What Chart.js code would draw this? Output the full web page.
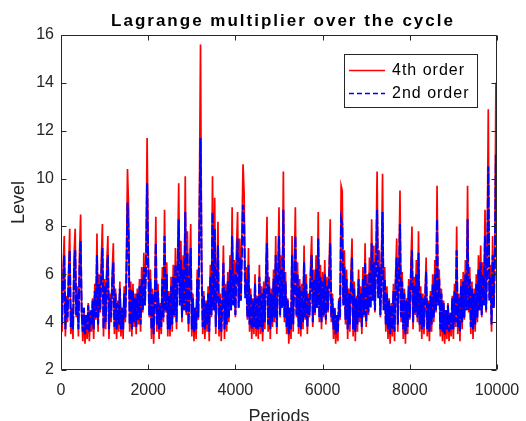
<!DOCTYPE html>
<html><head><meta charset="utf-8">
<script src="https://cdn.jsdelivr.net/npm/chart.js@4.4.0/dist/chart.umd.min.js"></script>
<style>html,body{margin:0;padding:0;background:#fff;}#wrap{width:526px;height:421px;position:relative;}</style>
</head><body><div id="wrap"><canvas id="c" width="526" height="421"></canvas></div>
<script>
const TITLE = 'Lagrange multiplier over the cycle';
const X_LABEL = 'Periods';
const Y_LABEL = 'Level';
const SERIES_NAMES = ['4th order', '2nd order'];
const PERIOD_STEP = 25; // one sample every 25 periods, 0..10000
const xTicks = [0, 2000, 4000, 6000, 8000, 10000];
const yTicks = [2, 4, 6, 8, 10, 12, 14, 16];

// 4th order (red)
const order4 = [
5.2,3.6,6.3,7.6,3.4,5.1,4.0,6.2,7.9,3.5,4.6,3.3,6.8,7.9,4.2,5.5,3.4,6.9,8.5,4.3,
3.2,4.6,3.1,4.2,3.3,4.8,3.2,4.4,3.6,5.0,3.3,5.6,4.1,7.7,3.6,6.0,4.4,6.6,8.1,3.4,
5.8,3.7,6.4,7.6,3.3,5.2,4.0,6.1,7.3,3.5,5.4,3.3,4.9,3.6,5.7,3.4,4.6,3.3,5.5,4.0,
6.4,10.4,8.8,3.6,5.7,3.4,5.6,3.8,5.2,3.5,5.4,3.9,5.8,3.6,6.3,4.4,6.9,4.8,6.8,11.7,
7.0,4.2,6.2,3.3,5.4,3.1,5.0,8.4,3.6,5.6,3.3,4.8,3.5,6.3,4.0,8.7,4.4,6.5,3.4,5.3,
3.4,5.9,3.6,6.4,4.2,7.1,3.7,6.6,9.8,4.8,7.4,4.0,6.8,4.5,10.1,4.3,7.8,3.6,6.0,8.1,
3.4,5.2,3.2,4.6,3.3,6.2,4.1,9.5,15.6,6.8,3.5,5.3,3.3,4.9,3.6,5.5,3.2,6.4,4.2,10.1,
4.5,9.2,3.5,5.8,8.2,3.4,5.2,3.2,4.8,7.2,3.3,5.6,3.6,6.1,4.0,6.8,4.5,8.8,4.8,6.6,
4.2,7.0,8.6,4.6,7.5,5.0,7.8,10.6,9.4,5.2,6.3,4.1,7.1,3.6,5.4,3.3,5.0,3.5,6.0,3.4,
5.1,3.3,6.4,3.5,5.5,3.2,5.7,3.7,6.3,8.4,3.6,5.9,3.3,5.4,3.8,6.2,4.0,7.6,3.5,6.0,
8.8,4.2,6.8,4.6,10.3,4.0,6.1,3.5,5.0,3.1,4.6,3.3,7.6,3.6,6.0,8.8,4.2,6.5,3.5,5.8,
3.4,5.6,3.7,7.2,4.1,6.0,3.5,5.2,4.2,6.4,7.6,3.8,6.2,4.3,6.8,4.6,8.6,4.0,6.4,3.7,
6.1,4.2,6.6,3.9,5.9,4.4,6.3,8.3,4.0,5.2,3.3,4.6,3.1,4.2,3.2,5.0,4.1,9.7,9.5,4.8,
7.0,3.9,6.2,3.3,5.4,3.6,6.0,7.5,3.4,5.7,3.2,5.1,3.6,6.2,4.0,5.5,3.5,6.3,4.2,7.3,
3.8,6.0,4.3,6.7,4.6,8.3,5.0,7.2,4.4,6.9,10.3,5.2,7.0,4.2,6.6,10.2,4.5,6.3,3.6,5.5,
3.3,5.0,3.1,4.8,3.4,5.6,3.2,6.0,7.5,3.6,6.3,9.5,4.0,6.1,3.3,5.4,3.1,5.0,3.5,5.8,
4.1,6.4,8.0,3.7,5.9,4.3,6.6,4.0,7.8,3.6,5.5,3.3,5.2,3.5,5.0,6.7,3.4,4.9,3.2,5.3,
3.6,6.0,4.0,6.6,4.4,9.7,4.8,6.2,3.4,5.4,3.2,4.9,3.1,4.5,3.3,4.8,3.2,4.3,3.4,5.1,
3.3,5.6,3.8,8.0,3.5,5.2,3.2,5.8,3.7,6.1,4.1,6.6,4.5,9.7,4.4,6.3,3.5,5.7,3.3,5.4,
3.6,6.0,4.0,6.8,4.5,7.2,4.2,6.5,4.8,8.7,4.4,7.1,12.9,5.0,6.4,3.6,7.6,4.6,7.0,14.0,8.2
];

// 2nd order (blue dashed)
const order2 = [
5.0,3.9,5.8,6.8,3.7,5.0,4.2,5.8,7.0,3.8,4.6,3.7,6.2,7.0,4.3,5.2,3.7,6.3,7.4,4.4,
3.6,4.6,3.5,4.3,3.7,4.7,3.6,4.5,3.9,4.9,3.7,5.3,4.2,6.8,3.9,5.6,4.5,6.0,7.1,3.7,
5.5,4.0,5.9,6.8,3.7,5.0,4.2,5.7,6.5,3.8,5.2,3.7,4.8,3.9,5.4,3.7,4.6,3.7,5.2,4.2,
5.9,9.0,7.6,3.9,5.4,3.7,5.3,4.0,5.0,3.8,5.2,4.1,5.5,3.9,5.8,4.5,6.3,4.7,6.2,9.8,
6.3,4.3,5.8,3.7,5.2,3.5,4.9,7.3,3.9,5.3,3.7,4.7,3.8,5.8,4.2,7.6,4.5,6.0,3.7,5.1,
3.7,5.5,3.9,5.9,4.3,6.4,4.0,6.0,8.3,4.7,6.6,4.2,6.2,4.5,8.6,4.4,6.9,3.9,5.6,7.1,
3.7,5.0,3.6,4.6,3.7,5.8,4.2,8.1,11.7,6.2,3.8,5.1,3.7,4.8,3.9,5.2,3.6,5.9,4.3,8.6,
4.5,7.9,3.8,5.5,7.2,3.7,5.0,3.6,4.7,6.5,3.7,5.3,3.9,5.7,4.2,6.2,4.5,7.6,4.7,6.0,
4.3,6.3,7.5,4.6,6.7,4.9,6.9,8.9,8.1,5.0,5.8,4.2,6.4,3.9,5.2,3.7,4.9,3.8,5.6,3.7,
5.0,3.7,5.9,3.8,5.2,3.6,5.4,4.0,5.8,7.3,3.9,5.5,3.7,5.2,4.0,5.8,4.2,6.8,3.8,5.6,
7.6,4.3,6.2,4.6,8.7,4.2,5.7,3.8,4.9,3.5,4.6,3.7,6.8,3.9,5.6,7.6,4.3,6.0,3.8,5.5,
3.7,5.3,4.0,6.5,4.2,5.6,3.8,5.0,4.3,5.9,6.8,4.0,5.8,4.4,6.2,4.6,7.5,4.2,5.9,4.0,
5.7,4.3,6.0,4.1,5.5,4.5,5.8,7.3,4.2,5.0,3.7,4.6,3.5,4.3,3.6,4.9,4.2,8.3,8.1,4.7,
6.3,4.1,5.8,3.7,5.2,3.9,5.6,6.7,3.7,5.4,3.6,5.0,3.9,5.8,4.2,5.2,3.8,5.8,4.3,6.5,
4.0,5.6,4.4,6.1,4.6,7.3,4.9,6.5,4.5,6.3,8.7,5.0,6.3,4.3,6.0,8.6,4.5,5.8,3.9,5.2,
3.7,4.9,3.5,4.7,3.7,5.3,3.6,5.6,6.7,3.9,5.8,8.1,4.2,5.7,3.7,5.2,3.5,4.9,3.8,5.5,
4.2,5.9,7.0,4.0,5.5,4.4,6.0,4.2,6.9,3.9,5.2,3.7,5.0,3.8,4.9,6.1,3.7,4.8,3.6,5.1,
3.9,5.6,4.2,6.0,4.5,8.3,4.7,5.8,3.7,5.2,3.6,4.8,3.5,4.5,3.7,4.7,3.6,4.4,3.7,5.0,
3.7,5.3,4.0,7.0,3.8,5.0,3.6,5.5,4.0,5.7,4.2,6.0,4.5,8.3,4.5,5.8,3.8,5.4,3.7,5.2,
3.9,5.6,4.2,6.2,4.5,6.5,4.3,6.0,4.7,7.6,4.5,6.4,10.5,4.9,5.9,3.9,6.8,4.6,6.3,11.0,7.2
];

const FONT = "'Liberation Sans', Arial, Helvetica, sans-serif";
const AXIS_COLOR = '#262626';
const RED = '#ff0000', BLUE = '#0000ff';

const toPoints = arr => arr.map((v, i) => ({ x: i * PERIOD_STEP, y: v }));

const matlabPlugin = {
  id: 'matlabLook',
  afterDatasetsDraw(chart) {
    const { ctx, chartArea: a, scales: { x, y } } = chart;
    ctx.save();
    ctx.strokeStyle = AXIS_COLOR;
    ctx.lineWidth = 1;
    ctx.beginPath();
    const L = Math.round(a.left) + 0.5, R = Math.round(a.right) - 0.5;
    const T = Math.round(a.top) + 0.5, B = Math.round(a.bottom) - 0.5;
    ctx.rect(L, T, R - L, B - T);
    const tl = 5;
    xTicks.forEach(v => {
      const px = Math.round(x.getPixelForValue(v)) + 0.5;
      ctx.moveTo(px, B); ctx.lineTo(px, B - tl);
      ctx.moveTo(px, T); ctx.lineTo(px, T + tl);
    });
    yTicks.forEach(v => {
      const py = Math.round(y.getPixelForValue(v)) + 0.5;
      ctx.moveTo(L, py); ctx.lineTo(L + tl, py);
      ctx.moveTo(R, py); ctx.lineTo(R - tl, py);
    });
    ctx.stroke();
    ctx.restore();
  },
  afterDraw(chart) {
    const { ctx, chartArea: a } = chart;
    // title
    ctx.save();
    ctx.letterSpacing = '2px';
    ctx.font = 'bold 17px ' + FONT;
    ctx.fillStyle = '#000';
    ctx.textAlign = 'center';
    ctx.textBaseline = 'alphabetic';
    ctx.fillText(TITLE, (a.left + a.right) / 2 + 4, 26);
    ctx.restore();
    // legend
    ctx.save();
    const bx = 344.5, by = 54.5, bw = 133, bh = 53;
    ctx.fillStyle = '#fff';
    ctx.fillRect(bx, by, bw, bh);
    ctx.strokeStyle = AXIS_COLOR;
    ctx.lineWidth = 1;
    ctx.strokeRect(bx, by, bw, bh);
    const rows = [70, 93];
    const ds = chart.data.datasets;
    ctx.font = '16px ' + FONT;
    ctx.letterSpacing = '1px';
    ctx.textBaseline = 'middle';
    ctx.textAlign = 'left';
    ds.forEach((d, k) => {
      ctx.beginPath();
      ctx.strokeStyle = d.borderColor;
      ctx.lineWidth = 1.5;
      ctx.setLineDash(k === 1 ? [5, 3] : []);
      ctx.moveTo(349, rows[k] + 0.5);
      ctx.lineTo(385, rows[k] + 0.5);
      ctx.stroke();
      ctx.setLineDash([]);
      ctx.fillStyle = '#000';
      ctx.fillText(d.label, 392, rows[k] + 1);
    });
    ctx.restore();
  }
};

new Chart(document.getElementById('c'), {
  type: 'line',
  data: {
    datasets: [
      { label: SERIES_NAMES[0], data: toPoints(order4), borderColor: RED, borderWidth: 1.7,
        pointRadius: 0, tension: 0, fill: false, order: 2 },
      { label: SERIES_NAMES[1], data: toPoints(order2), borderColor: BLUE, borderWidth: 2.1,
        borderDash: [10, 2], pointRadius: 0, tension: 0, fill: false, order: 1 }
    ]
  },
  options: {
    responsive: false,
    animation: false,
    devicePixelRatio: 1,
    layout: { padding: { top: 35, right: 29, left: 0, bottom: 0 } },
    plugins: { legend: { display: false }, tooltip: { enabled: false }, title: { display: false } },
    scales: {
      x: {
        type: 'linear', min: 0, max: 10000,
        afterBuildTicks: s => { s.ticks = xTicks.map(v => ({ value: v })); },
        afterFit: s => { s.height = 51; s.paddingLeft = 0; s.paddingRight = 0; },
        grid: { display: false, drawTicks: false },
        border: { display: false },
        ticks: { color: AXIS_COLOR, font: { family: FONT, size: 16 }, padding: 11,
                 maxRotation: 0, autoSkip: false, callback: v => String(v) },
        title: { display: true, text: X_LABEL, color: AXIS_COLOR,
                 font: { family: FONT, size: 18 }, padding: { top: 0, bottom: -7 } }
      },
      y: {
        type: 'linear', min: 2, max: 16,
        afterBuildTicks: s => { s.ticks = yTicks.map(v => ({ value: v })); },
        afterFit: s => { s.width = 61; s.paddingTop = 0; s.paddingBottom = 0; },
        grid: { display: false, drawTicks: false },
        border: { display: false },
        ticks: { color: AXIS_COLOR, font: { family: FONT, size: 16 }, padding: 7,
                 autoSkip: false, callback: v => String(v) },
        title: { display: true, text: Y_LABEL, color: AXIS_COLOR,
                 font: { family: FONT, size: 18 }, padding: { top: 8, bottom: 0 } }
      }
    }
  },
  plugins: [matlabPlugin]
});
</script></body></html>
